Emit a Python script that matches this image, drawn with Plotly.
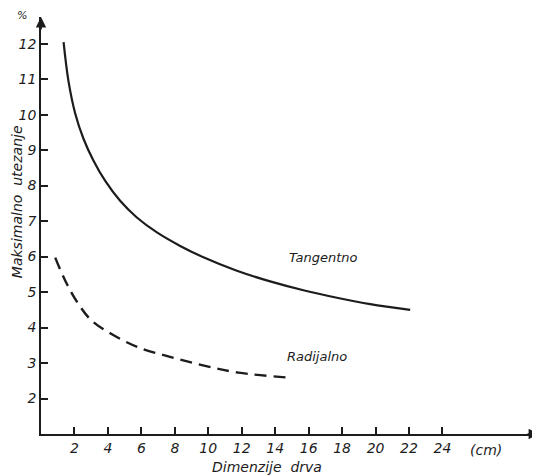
import plotly.graph_objects as go

# Data
tang_x = [1.35, 1.64, 2.04, 2.54, 3.14, 3.84, 4.73, 5.73, 6.93, 8.32, 9.71, 11.71, 13.7, 15.69, 17.69, 19.68, 22.07]
tang_y = [12.04, 10.95, 10.04, 9.32, 8.70, 8.13, 7.57, 7.10, 6.68, 6.30, 5.98, 5.60, 5.30, 5.05, 4.84, 4.66, 4.50]
rad_x = [0.85, 1.45, 2.24, 3.04, 4.24, 5.83, 7.82, 9.81, 11.8, 14.8]
rad_y = [5.97, 5.32, 4.66, 4.19, 3.81, 3.44, 3.16, 2.92, 2.73, 2.59]
x_ticks = [2, 4, 6, 8, 10, 12, 14, 16, 18, 20, 22, 24]
y_ticks = [2, 3, 4, 5, 6, 7, 8, 9, 10, 11, 12]

ink = "#1c1c1c"
fam = "DejaVu Sans"
fnt = dict(family=fam, size=13, color=ink, style="italic")
tickfnt = dict(family=fam, size=14, color=ink, style="italic")

fig = go.Figure()
fig.add_trace(go.Scatter(x=tang_x, y=tang_y, mode="lines",
                         line=dict(color=ink, width=2.2, shape="spline", smoothing=1.0),
                         showlegend=False, hoverinfo="skip"))
fig.add_trace(go.Scatter(x=rad_x, y=rad_y, mode="lines",
                         line=dict(color=ink, width=2.4, shape="spline", smoothing=1.0, dash="12px,7px"),
                         showlegend=False, hoverinfo="skip"))

fig.update_layout(
    width=532, height=467,
    margin=dict(l=33, r=0, t=9, b=41, autoexpand=False),
    paper_bgcolor="white", plot_bgcolor="white",
    font=fnt,
    xaxis=dict(range=[0, 29.83], tickvals=x_ticks, ticktext=[str(v) for v in x_ticks],
               showgrid=False, zeroline=False, showline=True, linecolor=ink, linewidth=1.6,
               ticks="inside", ticklen=7, tickwidth=1.6, tickcolor=ink,
               tickfont=tickfnt, automargin=False),
    yaxis=dict(range=[1, 12.75], tickvals=y_ticks, ticktext=[str(v) for v in y_ticks],
               showgrid=False, zeroline=False, showline=True, linecolor=ink, linewidth=1.6,
               ticks="inside", ticklen=7, tickwidth=1.6, tickcolor=ink,
               tickfont=tickfnt, automargin=False),
)

# axis arrows
fig.add_annotation(x=1.0, y=0, xref="paper", yref="paper", ax=-14, ay=0, text="",
                   showarrow=True, arrowhead=2, arrowsize=1.3, arrowwidth=1.6, arrowcolor=ink)
fig.add_annotation(x=0, y=1.0, xref="paper", yref="paper", ax=0, ay=14, text="",
                   showarrow=True, arrowhead=2, arrowsize=1.3, arrowwidth=1.6, arrowcolor=ink)

# texts
fig.add_annotation(x=16.87, y=5.96, text="Tangentno", showarrow=False, font=fnt)
fig.add_annotation(x=16.5, y=3.17, text="Radijalno", showarrow=False, font=fnt)
fig.add_annotation(x=26.6, y=0, yref="paper", yshift=-16, yanchor="middle", text="(cm)",
                   showarrow=False, font=tickfnt)
fig.add_annotation(x=13.5, y=0, yref="paper", yshift=-33, yanchor="middle", text="Dimenzije  drva",
                   showarrow=False, font=dict(family=fam, size=14, color=ink, style="italic"))
fig.add_annotation(x=0, xref="paper", xshift=-24, xanchor="center", y=0.556, yref="paper",
                   yanchor="middle", text="Maksimalno  utezanje", textangle=-90, showarrow=False,
                   font=dict(family=fam, size=14, color=ink, style="italic"))
fig.add_annotation(x=0, xref="paper", xshift=-19, xanchor="center", y=1.0, yref="paper",
                   yshift=2, yanchor="middle", text="%", showarrow=False,
                   font=dict(family=fam, size=11, color=ink, style="italic"))

fig.write_html("out.html")
